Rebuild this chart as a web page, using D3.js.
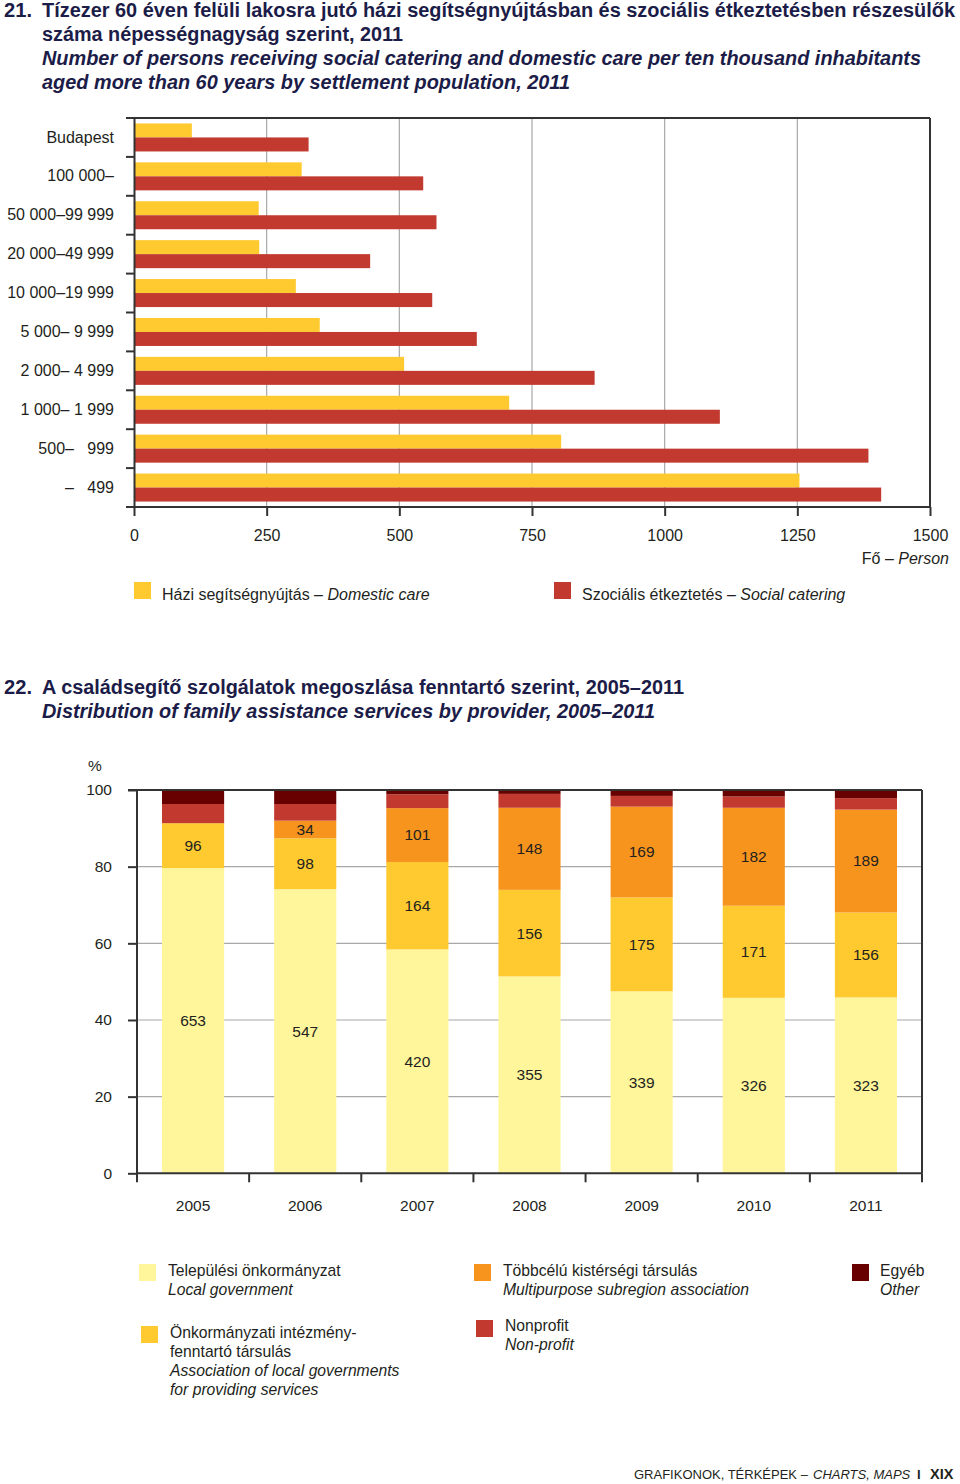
<!DOCTYPE html>
<html><head><meta charset="utf-8">
<script src="https://cdn.jsdelivr.net/npm/d3@7"></script>
<style>
body{margin:0;background:#fff}
text{font-family:"Liberation Sans",Arial,sans-serif;fill:#231f20}
.title{font-weight:bold;fill:#1c1c48;font-size:19.5px}
</style>
</head><body><svg id="c" width="960" height="1484"></svg>
<script>
// ---------- Chart 21 data ----------
const settlementCategories = ["Budapest","100 000–","50 000–99 999","20 000–49 999","10 000–19 999","5 000– 9 999","2 000– 4 999","1 000– 1 999","500–\u2007 999","–\u2007 499"];
const domesticCare   = [109,316,235,236,305,350,509,707,805,1254];
const socialCatering = [329,545,570,445,562,646,868,1104,1384,1408];
const xTicks1 = [0,250,500,750,1000,1250,1500];
const series1 = ["Házi segítségnyújtás", "Szociális étkeztetés"];

// ---------- Chart 22 data ----------
const years = ["2005","2006","2007","2008","2009","2010","2011"];
const localGov      = [653,547,420,355,339,326,323];
const assocServices = [96,98,164,156,175,171,156];
const multipurpose  = [0,34,101,148,169,182,189];
const nonprofit     = [41,32,26,25,20,21,21];
const other         = [30,27,8,7,11,12,15];
const yTicks2 = [0,20,40,60,80,100];

const svg = d3.select("#c");
const C = {yellow:"#FFCA30", red:"#C1392F", light:"#FFF59B", orange:"#F7941E", dark:"#690000", grid:"#a8a8a8", axis:"#333"};

// ---------- Titles ----------
function tline(x,y,str,len,italic){
  const t = svg.append("text").attr("class","title").attr("x",x).attr("y",y).text(str);
  if(len) t.attr("textLength",len).attr("lengthAdjust","spacingAndGlyphs");
  if(italic) t.style("font-style","italic");
  return t;
}
tline(4,17,"21.",28);
tline(42,17,"Tízezer 60 éven felüli lakosra jutó házi segítségnyújtásban és szociális étkeztetésben részesülők",913);
tline(42,41,"száma népességnagyság szerint, 2011",361);
tline(42,65,"Number of persons receiving social catering and domestic care per ten thousand inhabitants",879,true);
tline(42,89,"aged more than 60 years by settlement population, 2011",528,true);

tline(4,694,"22.",28);
tline(42,694,"A családsegítő szolgálatok megoszlása fenntartó szerint, 2005–2011",642);
tline(42,718,"Distribution of family assistance services by provider, 2005–2011",613,true);

// ---------- Chart 21 ----------
{
  const L=134, R=930, T=118, B=507;
  const x = d3.scaleLinear().domain([0,1500]).range([L,R]);
  const y = d3.scaleBand().domain(settlementCategories).range([T,B]).paddingInner(0.28).paddingOuter(0.14);
  const yCat = d3.scaleBand().domain(settlementCategories).range([T,B]);
  const ys = d3.scaleBand().domain(series1).range([0,y.bandwidth()]);
  const g = svg.append("g");
  g.selectAll(".gl").data(xTicks1.slice(1,-1)).join("line")
    .attr("x1",d=>x(d)).attr("x2",d=>x(d)).attr("y1",T).attr("y2",B)
    .attr("stroke",C.grid).attr("stroke-width",1.2);
  const vals = [domesticCare, socialCatering], cols=[C.yellow,C.red];
  series1.forEach((s,si)=>{
    g.selectAll(".b"+si).data(settlementCategories).join("rect")
      .attr("x",x(0)).attr("y",d=>y(d)+ys(s))
      .attr("width",(d,i)=>x(vals[si][i])-x(0)).attr("height",ys.bandwidth())
      .attr("fill",cols[si]);
  });
  g.append("line").attr("x1",126).attr("x2",R).attr("y1",T).attr("y2",T).attr("stroke",C.axis).attr("stroke-width",2);
  g.append("line").attr("x1",R).attr("x2",R).attr("y1",T).attr("y2",B).attr("stroke",C.axis).attr("stroke-width",2);
  const ya = d3.axisLeft(yCat).tickSize(0).tickPadding(20);
  const yg = g.append("g").attr("transform",`translate(${L},0)`).call(ya);
  yg.select(".domain").attr("stroke",C.axis).attr("stroke-width",2);
  yg.selectAll("text").attr("font-size",16).style("white-space","pre").attr("fill","#231f20").attr("font-family","Liberation Sans, Arial, sans-serif");
  g.selectAll(".yt").data(settlementCategories.slice(1)).join("line")
    .attr("x1",126).attr("x2",L).attr("y1",d=>yCat(d)).attr("y2",d=>yCat(d)).attr("stroke",C.axis).attr("stroke-width",2);
  const xa = d3.axisBottom(x).tickValues(xTicks1).tickSize(9).tickPadding(14).tickFormat(d3.format("d"));
  const xg = g.append("g").attr("transform",`translate(0,${B})`).call(xa);
  xg.select(".domain").remove();
  g.append("line").attr("x1",126).attr("x2",R).attr("y1",B).attr("y2",B).attr("stroke",C.axis).attr("stroke-width",2);
  xg.selectAll(".tick line").attr("stroke",C.axis).attr("stroke-width",2);
  xg.selectAll("text").attr("font-size",16).attr("fill","#231f20").attr("font-family","Liberation Sans, Arial, sans-serif");
  const fp = g.append("text").attr("x",949).attr("y",564).attr("text-anchor","end").attr("font-size",16);
  fp.append("tspan").text("Fő – ");
  fp.append("tspan").style("font-style","italic").text("Person");
  const leg = [{x:134, c:C.yellow, hu:"Házi segítségnyújtás – ", en:"Domestic care"},{x:554, c:C.red, hu:"Szociális étkeztetés – ", en:"Social catering"}];
  leg.forEach(l=>{
    g.append("rect").attr("x",l.x).attr("y",582).attr("width",17).attr("height",17).attr("fill",l.c);
    const t=g.append("text").attr("x",l.x+28).attr("y",600).attr("font-size",16);
    t.append("tspan").text(l.hu);
    t.append("tspan").style("font-style","italic").text(l.en);
  });
}

// ---------- Chart 22 ----------
{
  const L=137, R=922, T=790, B=1173.3;
  const keys = ["localGov","assocServices","multipurpose","nonprofit","other"];
  const cols = {localGov:C.light, assocServices:C.yellow, multipurpose:C.orange, nonprofit:C.red, other:C.dark};
  const raw = {localGov, assocServices, multipurpose, nonprofit, other};
  const table = years.map((yr,i)=>{const o={year:yr}; keys.forEach(k=>o[k]=raw[k][i]); return o;});
  const stacked = d3.stack().keys(keys).offset(d3.stackOffsetExpand)(table);
  const x = d3.scaleBand().domain(years).range([L,R]).paddingInner(0.446).paddingOuter(0.223);
  const xCat = d3.scaleBand().domain(years).range([L,R]);
  const y = d3.scaleLinear().domain([0,100]).range([B,T]);
  const g = svg.append("g");
  g.selectAll(".gl").data(yTicks2.slice(1,-1)).join("line")
    .attr("x1",L).attr("x2",R).attr("y1",d=>y(d)).attr("y2",d=>y(d))
    .attr("stroke",C.grid).attr("stroke-width",1.2);
  stacked.forEach(layer=>{
    g.selectAll(".s-"+layer.key).data(layer).join("rect")
      .attr("x",d=>x(d.data.year)).attr("width",x.bandwidth())
      .attr("y",d=>y(d[1]*100)).attr("height",d=>y(d[0]*100)-y(d[1]*100))
      .attr("fill",cols[layer.key]);
    if(["localGov","assocServices","multipurpose"].includes(layer.key)){
      g.selectAll(".l-"+layer.key).data(layer.filter(d=>d.data[layer.key]>0)).join("text")
        .attr("x",d=>x(d.data.year)+x.bandwidth()/2)
        .attr("y",d=>(y(d[0]*100)+y(d[1]*100))/2)
        .attr("dy","0.35em").attr("text-anchor","middle").attr("font-size",15.5)
        .text(d=>d.data[layer.key]);
    }
  });
  g.append("line").attr("x1",128).attr("x2",R).attr("y1",T).attr("y2",T).attr("stroke",C.axis).attr("stroke-width",2);
  g.append("line").attr("x1",R).attr("x2",R).attr("y1",T).attr("y2",B).attr("stroke",C.axis).attr("stroke-width",2);
  const ya = d3.axisLeft(y).tickValues(yTicks2).tickSize(9).tickPadding(16);
  const yg = g.append("g").attr("transform",`translate(${L},0)`).call(ya);
  yg.select(".domain").attr("stroke",C.axis).attr("stroke-width",2).attr("d",`M0,${T}V${B}`);
  yg.selectAll(".tick line").attr("stroke",C.axis).attr("stroke-width",2);
  yg.selectAll("text").attr("font-size",15.5).attr("fill","#231f20").attr("font-family","Liberation Sans, Arial, sans-serif");
  g.append("text").attr("x",88).attr("y",771).attr("font-size",15.5).text("%");
  g.append("line").attr("x1",L).attr("x2",R).attr("y1",B).attr("y2",B).attr("stroke",C.axis).attr("stroke-width",2);
  const bounds = years.map(yv=>xCat(yv)).concat([R]);
  g.selectAll(".xt").data(bounds).join("line")
    .attr("x1",d=>d).attr("x2",d=>d).attr("y1",B).attr("y2",B+9).attr("stroke",C.axis).attr("stroke-width",2);
  g.selectAll(".xl").data(years).join("text")
    .attr("x",d=>xCat(d)+xCat.bandwidth()/2).attr("y",1211).attr("text-anchor","middle").attr("font-size",15.5).text(d=>d);
  const legs = [
    {x:139,y:1264,c:C.light,tx:168,by:1276,lines:[["Települési önkormányzat",0],["Local government",1]]},
    {x:474,y:1264,c:C.orange,tx:503,by:1276,lines:[["Többcélú kistérségi társulás",0],["Multipurpose subregion association",1]]},
    {x:852,y:1264,c:C.dark,tx:880,by:1276,lines:[["Egyéb",0],["Other",1]]},
    {x:141,y:1326,c:C.yellow,tx:170,by:1338,lines:[["Önkormányzati intézmény-",0],["fenntartó társulás",0],["Association of local governments",1],["for providing services",1]]},
    {x:476,y:1320,c:C.red,tx:505,by:1331,lines:[["Nonprofit",0],["Non-profit",1]]}
  ];
  legs.forEach(l=>{
    g.append("rect").attr("x",l.x).attr("y",l.y).attr("width",17).attr("height",17).attr("fill",l.c);
    l.lines.forEach((ln,i)=>{
      g.append("text").attr("x",l.tx).attr("y",l.by+i*19).attr("font-size",15.7)
        .style("font-style",ln[1]?"italic":"normal").text(ln[0]);
    });
  });
}

// ---------- Footer ----------
{
  const fy = 1479;
  svg.append("text").attr("x",634).attr("y",fy).attr("font-size",13).text("GRAFIKONOK, TÉRKÉPEK –");
  svg.append("text").attr("x",813).attr("y",fy).attr("font-size",13).style("font-style","italic").text("CHARTS, MAPS");
  svg.append("text").attr("x",917).attr("y",fy).attr("font-size",13).attr("font-weight","bold").text("I");
  svg.append("text").attr("x",930).attr("y",fy).attr("font-size",14.5).attr("font-weight","bold").text("XIX");
}
</script>
</body></html>
